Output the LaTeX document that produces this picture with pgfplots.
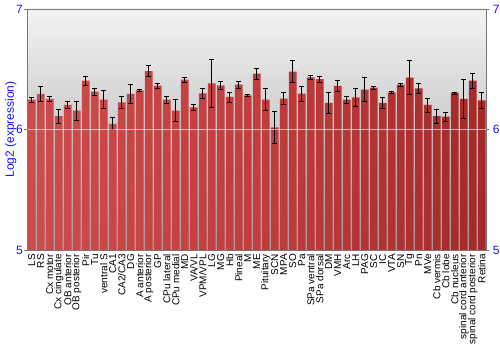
\documentclass[border=0pt]{standalone}
\usepackage{pgfplots}
\pgfplotsset{compat=1.18}
\usepackage{pgfplotstable}
\usepackage{fontspec}
\setmainfont{Liberation Sans}
\definecolor{tickblue}{RGB}{20,20,255}
\definecolor{axgray}{RGB}{120,120,120}
\pgfdeclarehorizontalshading{redbar}{100bp}{%
  rgb(0bp)=(0.88,0.45,0.45);
  rgb(15bp)=(0.82,0.32,0.32);
  rgb(50bp)=(0.76,0.24,0.24);
  rgb(85bp)=(0.60,0.13,0.13);
  rgb(100bp)=(0.45,0.08,0.08)}
\pgfplotstableread{
x y err
0 6.248 0.020
1 6.295 0.060
2 6.254 0.022
3 6.110 0.060
4 6.204 0.026
5 6.157 0.080
6 6.405 0.036
7 6.314 0.030
8 6.248 0.073
9 6.047 0.050
10 6.226 0.047
11 6.295 0.076
12 6.325 0.005
13 6.485 0.047
14 6.364 0.020
15 6.248 0.028
16 6.157 0.090
17 6.413 0.022
18 6.184 0.028
19 6.300 0.043
20 6.383 0.200
21 6.366 0.035
22 6.270 0.041
23 6.372 0.029
24 6.284 0.008
25 6.463 0.045
26 6.248 0.093
27 6.018 0.135
28 6.256 0.050
29 6.480 0.091
30 6.298 0.062
31 6.432 0.014
32 6.419 0.025
33 6.220 0.090
34 6.361 0.045
35 6.248 0.028
36 6.267 0.077
37 6.331 0.098
38 6.347 0.012
39 6.220 0.048
40 6.308 0.006
41 6.372 0.014
42 6.430 0.140
43 6.341 0.043
44 6.204 0.058
45 6.110 0.060
46 6.107 0.036
47 6.303 0.008
48 6.254 0.160
49 6.405 0.063
50 6.242 0.063
}\datatable
\begin{document}
\begin{tikzpicture}
\begin{axis}[
  scale only axis, width=459bp, height=241bp,
  xmin=-0.5, xmax=50.5, ymin=5, ymax=7,
  ytick={5,6,7},
  /pgf/number format/assume math mode=true,
  ticklabel style={font=\fontsize{12bp}{14bp}\selectfont, text=tickblue},
  ylabel={Log2 (expression)},
  ylabel style={font=\fontsize{12bp}{14bp}\selectfont, text=tickblue, yshift=-7bp},
  xtick=data,
  xticklabels={LS,RS,Cx motor,Cx cingulate,OB anterior,OB posterior,Pir,Tu,ventral S,CA1,CA2/CA3,DG,A anterior,A posterior,GP,CPu lateral,CPu medial,MD,VA/VL,VPM/VPL,LG,MG,Hb,Pineal,M,ME,Pituitary,SCN,MPA,SO,Pa,SPa ventral,SPa dorsal,DM,VMH,Arc,LH,PAG,SC,IC,VTA,SN,Tg,Pn,MVe,Cb vermis,Cb lobe,Cb nucleus,spinal cord anterior,spinal cord posterior,Retina},
  xticklabel style={rotate=90, anchor=east, font=\fontsize{10bp}{12bp}\selectfont, text=black, inner sep=1bp},
  xtick style={draw=none},
  ytick pos=left,
  yticklabel style={xshift=2bp},
  tick align=outside,
  major tick length=3bp,
  ytick style={axgray},
  axis line style={axgray},
  ymajorgrids, grid style={white, opacity=0.6, line width=0.8pt},
  axis on top,
  axis background/.style={top color={rgb,255:red,243;green,243;blue,243}, bottom color={rgb,255:red,165;green,165;blue,165}},
  ybar, bar width=7.7bp,
]
\addplot[draw=none, shading=redbar,
  error bars/.cd, y dir=both, y explicit,
  error bar style={black, line width=0.8pt},
  error mark options={rotate=90, black, mark size=2.5bp, line width=0.8pt}]
  table[x=x, y=y, y error=err] {\datatable};
\end{axis}
\begin{axis}[
  scale only axis, width=459bp, height=241bp,
  xmin=-0.5, xmax=50.5, ymin=5, ymax=7,
  ytick={5,6,7}, xtick=\empty,
  axis x line=none,
  axis y line*=right,
  /pgf/number format/assume math mode=true,
  ticklabel style={font=\fontsize{12bp}{14bp}\selectfont, text=tickblue},
  tick align=outside, major tick length=3bp,
  ytick style={axgray}, axis line style={axgray, -},
]
\end{axis}
\pgfresetboundingbox
\path ([shift={(-27.3bp,-100bp)}]current axis.south west) rectangle ([shift={(13.7bp,9bp)}]current axis.north east);
\end{tikzpicture}
\end{document}
